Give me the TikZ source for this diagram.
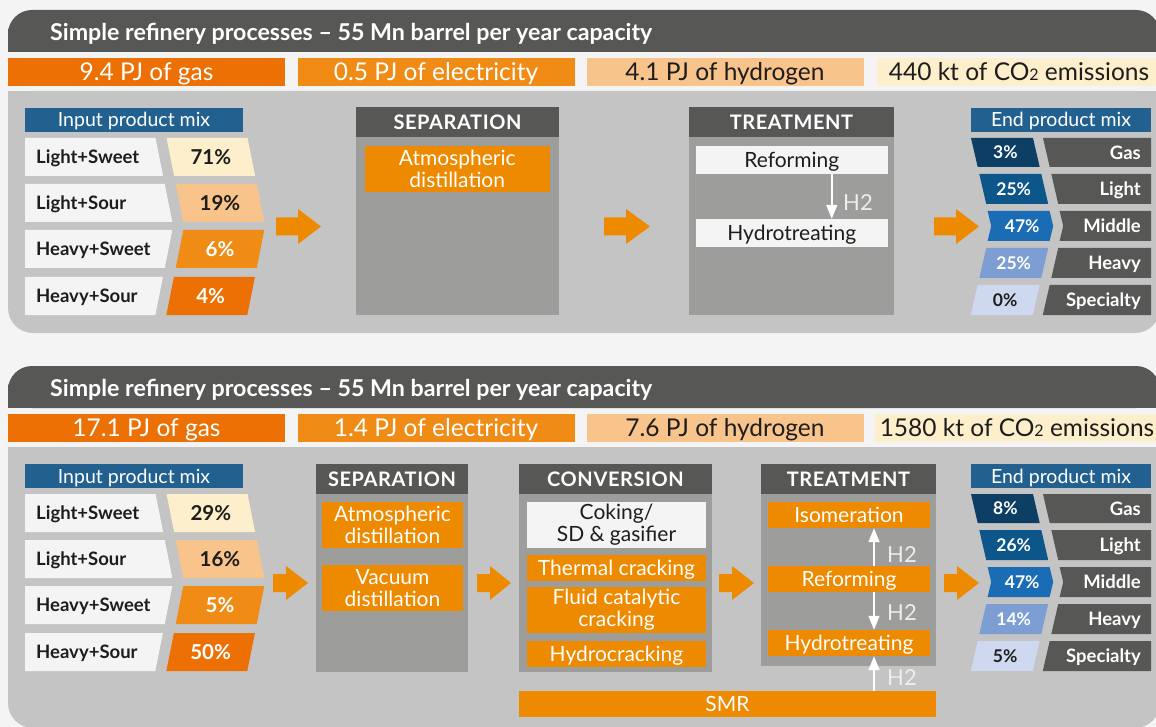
\documentclass[tikz,border=0pt]{standalone}
\usepackage{fontspec}
\setmainfont{Lato}
\usetikzlibrary{arrows.meta}
\definecolor{bgc}{HTML}{F4F4F4}
\definecolor{hdrc}{HTML}{575756}
\definecolor{panelc}{HTML}{C4C4C4}
\definecolor{boxc}{HTML}{9D9D9C}
\definecolor{orng}{HTML}{EE8A00}
\definecolor{blueh}{HTML}{22618F}
\definecolor{rowwhite}{HTML}{F4F4F4}
\definecolor{darktxt}{HTML}{1D1D1B}
\definecolor{inA}{HTML}{FDEFCC}
\definecolor{inB}{HTML}{F9C48C}
\definecolor{inC}{HTML}{F08C16}
\definecolor{inD}{HTML}{EC7004}
\definecolor{enA}{HTML}{0D3F64}
\definecolor{enB}{HTML}{0D5689}
\definecolor{enC}{HTML}{1A6DB5}
\definecolor{enD}{HTML}{7C9ED3}
\definecolor{enE}{HTML}{CED9EF}
\definecolor{lblc}{HTML}{575756}
\definecolor{h2c}{HTML}{EEEEEE}
\newcounter{nid}
\newcommand\inrow[8]{%
 \stepcounter{nid}%
 \fill[rowwhite] (25,#1) -- (#3,#1) -- (#4,#2) -- (25,#2) -- cycle;
 \fill[#7] ({#3+11},#1) -- ({#3+92},#1) -- ({#4+92},#2) -- ({#4+11},#2) -- cycle;
 \node[rowlbl] (inl\arabic{nid}) at (36,{(#1+#2)/2}) {#5};
 \node[inpct,text=#8] (inp\arabic{nid}) at ({(#3+#4)/2+51.5},{(#1+#2)/2}) {#6};
}
\newcommand\outrow[9]{%
 \stepcounter{nid}%
 \fill[#8] (#3,#1) -- ({#3+62},#1) -- ({#4+62},{(#1+#2)/2}) -- ({#5+62},#2) -- (#5,#2) -- (#4,{(#1+#2)/2}) -- cycle;
 \fill[lblc] ({#3+72},#1) -- (1151,#1) -- (1151,#2) -- ({#5+72},#2) -- ({#4+72},{(#1+#2)/2}) -- cycle;
 \node[outpct,text=#9] (enp\arabic{nid}) at ({#4+31},{(#1+#2)/2}) {#6};
 \node[outlbl] (enl\arabic{nid}) at (1141,{(#1+#2)/2}) {#7};
}
\newcommand\blockarrow[6]{%
 \fill[orng] (#1,{#4-#6}) -- (#2,{#4-#6}) -- (#2,{#4-#5}) -- (#3,#4) -- (#2,{#4+#5}) -- (#2,{#4+#6}) -- (#1,{#4+#6}) -- cycle;
}
\newcommand\cotwo{CO{\fontsize{16}{16}\selectfont 2}}
\tikzset{
 titletxt/.style={text=white, font=\bfseries\fontsize{23.2}{26}\selectfont, anchor=base west, inner sep=0pt},
 barbox/.style={inner sep=0pt, font=\fontsize{24.5}{28}\selectfont, text height=17.6pt, text depth=0pt, minimum width=277pt, minimum height=28pt},
 mixhd/.style={fill=blueh, text=white, font=\fontsize{19.5}{22}\selectfont, minimum height=24pt, inner sep=0pt, text height=14pt, text depth=0pt},
 sechd/.style={fill=hdrc, text=white, font=\bfseries\fontsize{20}{22}\selectfont\addfontfeatures{LetterSpace=3}, minimum height=30pt, inner sep=0pt, text height=14.4pt, text depth=0pt},
 procbox/.style={fill=orng, text=white, font=\fontsize{21}{22}\selectfont, inner sep=0pt, align=center},
 procone/.style={procbox, text height=15.1pt, text depth=0pt},
 wbox/.style={fill=rowwhite, text=darktxt},
 rowlbl/.style={anchor=west, inner sep=0pt, font=\bfseries\fontsize{18.5}{20}\selectfont, text=darktxt, text height=13.3pt, text depth=0pt},
 inpct/.style={inner sep=0pt, font=\bfseries\fontsize{20.5}{24}\selectfont, text height=14.8pt, text depth=0pt},
 outpct/.style={inner sep=0pt, font=\bfseries\fontsize{17.5}{20}\selectfont, text height=12.6pt, text depth=0pt},
 outlbl/.style={anchor=east, inner sep=0pt, text=white, font=\bfseries\fontsize{18.5}{20}\selectfont, text height=13.3pt, text depth=0pt},
 hlbl/.style={anchor=west, inner sep=0pt, text=h2c, font=\fontsize{22}{24}\selectfont, text height=15.8pt, text depth=0pt},
 h2arr/.style={draw=white, line width=1.6pt, -{Triangle[width=11pt,length=14pt]}}
}
\begin{document}
\begin{tikzpicture}[x=1pt,y=-1pt]
\useasboundingbox (0,0) rectangle (1156,727);
\fill[bgc] (0,0) rectangle (1156,727);
\begin{scope}
\clip (0,0) rectangle (1156,727);
% ================= panel backgrounds
\fill[hdrc, rounded corners=24pt] (8,10) rectangle (1160,52);
\fill[hdrc] (8,32) rectangle (1160,52);
\fill[panelc, rounded corners=25pt] (8,91) rectangle (1160,333);
\fill[panelc] (8,91) rectangle (1160,130);
\fill[hdrc, rounded corners=24pt] (8,366) rectangle (1160,408);
\fill[hdrc] (8,388) rectangle (1160,408);
\fill[panelc, rounded corners=25pt] (8,447) rectangle (1160,728);
\fill[panelc] (8,447) rectangle (1160,490);
% ================= panel 1 titles and bars
\node[titletxt] (t1) at (50,40.5) {Simple refinery processes -- 55 Mn barrel per year capacity};
\node[barbox, fill=inD, text=white] (b11) at (146.5,72) {9.4 PJ of gas};
\node[barbox, fill=inC, text=white] (b12) at (436,72) {0.5 PJ of electricity};
\node[barbox, fill=inB, text=darktxt] (b13) at (725,72) {4.1 PJ of hydrogen};
\node[barbox, fill=inA, text=darktxt, minimum width=284pt] (b14) at (1019,72) {440 kt of \cotwo{} emissions};
% ================= panel 2 titles and bars
\node[titletxt] (t2) at (50,396.5) {Simple refinery processes -- 55 Mn barrel per year capacity};
\node[barbox, fill=inD, text=white] (b21) at (146.5,428) {17.1 PJ of gas};
\node[barbox, fill=inC, text=white] (b22) at (436,428) {1.4 PJ of electricity};
\node[barbox, fill=inB, text=darktxt] (b23) at (725,428) {7.6 PJ of hydrogen};
\node[barbox, fill=inA, text=darktxt, minimum width=284pt] (b24) at (1017,428) {1580 kt of \cotwo{} emissions};
% ================= panel 1 input / output mix
\node[mixhd, minimum width=218pt] (imx1) at (134,120) {Input product mix};
\inrow{138}{176}{155.5}{163.1}{Light+Sweet}{71\%}{inA}{darktxt}
\inrow{184}{222}{164.7}{172.3}{Light+Sour}{19\%}{inB}{darktxt}
\inrow{230}{268}{172.3}{164.7}{Heavy+Sweet}{6\%}{inC}{white}
\inrow{277}{315}{162.9}{155.3}{Heavy+Sour}{4\%}{inD}{white}
\node[mixhd, minimum width=180pt] (omx1) at (1061,120) {End product mix};
\outrow{138}{167}{971}{974.35}{977.7}{3\%}{Gas}{enA}{white}
\outrow{174}{204}{979.3}{982.75}{986.2}{25\%}{Light}{enB}{white}
\outrow{211}{241}{987.6}{991.2}{987.6}{47\%}{Middle}{enC}{white}
\outrow{248}{278}{986.2}{982.75}{979.3}{25\%}{Heavy}{enD}{white}
\outrow{285}{315}{977.7}{974.2}{970.8}{0\%}{Specialty}{enE}{darktxt}
% ================= panel 2 input / output mix
\begin{scope}[shift={(0,356)}]
\node[mixhd, minimum width=218pt] (imx2) at (134,120) {Input product mix};
\inrow{138}{176}{155.5}{163.1}{Light+Sweet}{29\%}{inA}{darktxt}
\inrow{184}{222}{164.7}{172.3}{Light+Sour}{16\%}{inB}{darktxt}
\inrow{230}{268}{172.3}{164.7}{Heavy+Sweet}{5\%}{inC}{white}
\inrow{277}{315}{162.9}{155.3}{Heavy+Sour}{50\%}{inD}{white}
\node[mixhd, minimum width=180pt] (omx2) at (1061,120) {End product mix};
\outrow{138}{167}{971}{974.35}{977.7}{8\%}{Gas}{enA}{white}
\outrow{174}{204}{979.3}{982.75}{986.2}{26\%}{Light}{enB}{white}
\outrow{211}{241}{987.6}{991.2}{987.6}{47\%}{Middle}{enC}{white}
\outrow{248}{278}{986.2}{982.75}{979.3}{14\%}{Heavy}{enD}{white}
\outrow{285}{315}{977.7}{974.2}{970.8}{5\%}{Specialty}{enE}{darktxt}
\end{scope}
% ================= panel 1 process boxes
\fill[boxc] (356,137) rectangle (559,315);
\node[sechd, minimum width=203pt] (sep1) at (457.5,122) {SEPARATION};
\node[procbox, minimum width=185.5pt, minimum height=46pt] (atm1) at (457.25,169) {Atmospheric\\distillation};
\fill[boxc] (689,137) rectangle (894,315);
\node[sechd, minimum width=205pt] (trt1) at (791.5,122) {TREATMENT};
\node[procone, wbox, minimum width=191.5pt, minimum height=28pt] (ref1) at (791.75,160) {Reforming};
\node[procone, wbox, minimum width=191.5pt, minimum height=28pt] (hyd1) at (791.75,233) {Hydrotreating};
\draw[h2arr] ([xshift=40pt]ref1.south) -- ([xshift=40pt]hyd1.north);
\node[hlbl] (h2a) at (843,203) {H2};
\blockarrow{276}{298}{321}{226.5}{17.5}{9}
\blockarrow{604}{626}{650}{226.5}{17.5}{9}
\blockarrow{934}{956}{979}{226.5}{17.5}{9}
% ================= panel 2 process boxes
\fill[boxc] (316,494) rectangle (468,672);
\node[sechd, minimum width=152pt] (sep2) at (392,479) {SEPARATION};
\node[procbox, minimum width=141pt, minimum height=46pt] (atm2) at (392.5,525) {Atmospheric\\distillation};
\node[procbox, minimum width=141pt, minimum height=46pt] (vac2) at (392.5,588) {Vacuum\\distillation};
\fill[boxc] (519,494) rectangle (712,672);
\node[sechd, minimum width=193pt] (conv2) at (615.5,479) {CONVERSION};
\node[procbox, wbox, minimum width=179pt, minimum height=46pt] (cok) at (616.5,525) {Coking/\\SD \& gasifier};
\node[procone, minimum width=179pt, minimum height=26pt] (thc) at (616.5,568) {Thermal cracking};
\node[procbox, minimum width=179pt, minimum height=46pt] (fcc) at (616.5,610) {Fluid catalytic\\cracking};
\node[procone, minimum width=179pt, minimum height=26pt] (hyc) at (616.5,654) {Hydrocracking};
\fill[boxc] (761,494) rectangle (936,666);
\node[sechd, minimum width=175pt] (trt2) at (848.5,479) {TREATMENT};
\node[procone, minimum width=162pt, minimum height=26pt] (iso) at (849,515) {Isomeration};
\node[procone, minimum width=162pt, minimum height=26pt] (ref2) at (849,579) {Reforming};
\node[procone, minimum width=162pt, minimum height=26pt] (hyd2) at (849,643) {Hydrotreating};
\node[procone, minimum width=417pt, minimum height=26pt] (smr) at (727.5,704) {SMR};
\draw[h2arr] ([xshift=25pt]ref2.north) -- ([xshift=25pt]iso.south);
\draw[h2arr] ([xshift=25pt]ref2.south) -- ([xshift=25pt]hyd2.north);
\draw[h2arr] ([xshift=146.5pt]smr.north) -- ([xshift=25pt]hyd2.south);
\node[hlbl] (h2b) at (887,555) {H2};
\node[hlbl] (h2c) at (887,613) {H2};
\node[hlbl] (h2d) at (887,678) {H2};
\blockarrow{273}{286}{308}{583}{17}{9}
\blockarrow{477}{490}{511}{583}{17}{9}
\blockarrow{719}{732}{754}{583}{17}{9}
\blockarrow{944}{957}{979}{583}{17}{9}
\end{scope}
\end{tikzpicture}
\end{document}
